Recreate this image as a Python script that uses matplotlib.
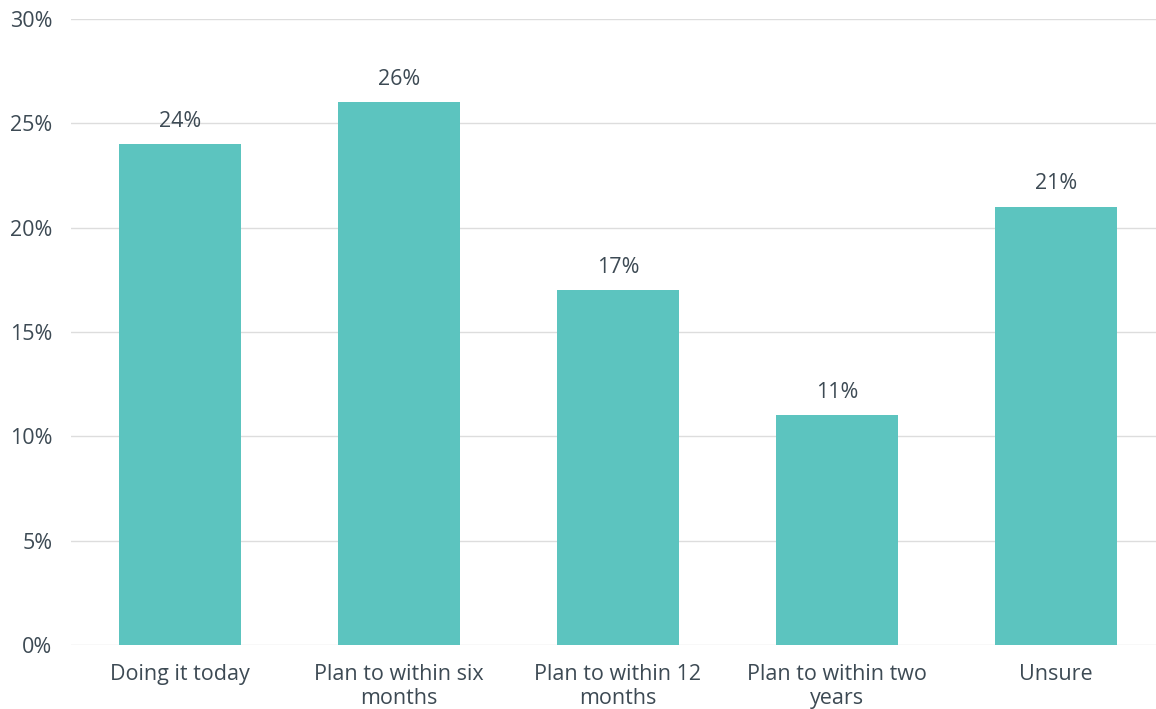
import matplotlib.pyplot as plt
import numpy as np

categories = ["Doing it today", "Plan to within six\nmonths", "Plan to within 12\nmonths",
              "Plan to within two\nyears", "Unsure"]
values = [24, 26, 17, 11, 21]
yticks = [0, 5, 10, 15, 20, 25, 30]

plt.rcParams['font.family'] = ['Open Sans', 'DejaVu Sans']
texto = '#3d4a54'
barra = '#5cc4bf'

fig = plt.figure(figsize=(11.56, 7.09), dpi=100)
ax = fig.add_axes([70.5 / 1156, 64 / 709, 1 - 70.5 / 1156, (645 - 19) / 709])

x = np.arange(len(categories))
ax.bar(x, values, width=0.557, color=barra, zorder=2)

for xi, v in zip(x, values):
    ax.annotate(f"{v}%", (xi, v), xytext=(0, 9), textcoords='offset points',
                ha='center', va='bottom', fontsize=15.5, color=texto)

ax.set_ylim(0, 30)
ax.set_xlim(-0.5, 4.5 - 9.5 / 219)
ax.set_yticks(yticks)
ax.set_yticklabels([f"{t}%" for t in yticks])
ax.set_xticks(x)
ax.set_xticklabels(categories, linespacing=1.2)
ax.grid(axis='y', color='#dddddd', linewidth=1, zorder=0)
ax.tick_params(axis='both', length=0, labelsize=15.5, colors=texto)
ax.tick_params(axis='y', pad=13)
ax.tick_params(axis='x', pad=13.5)
for s in ax.spines.values():
    s.set_visible(False)

plt.savefig("out.png", dpi=100)
plt.close()
